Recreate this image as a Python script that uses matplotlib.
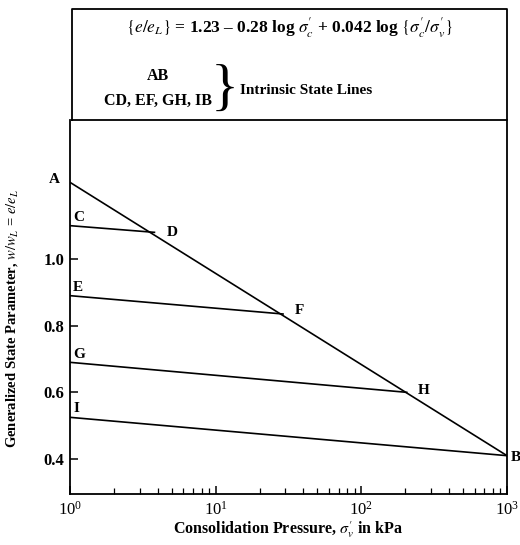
#!/usr/bin/env python3
"""
Intrinsic state lines: generalized state parameter vs consolidation pressure.
Writes out.png
"""
import matplotlib
matplotlib.use("Agg")
import matplotlib.pyplot as plt
from matplotlib.ticker import LogLocator, FixedLocator, NullFormatter

plt.rcParams['font.family'] = ['Liberation Serif', 'DejaVu Serif']
plt.rcParams['mathtext.fontset'] = 'stix'

# end points of each line, (pressure kPa, e/eL)
line_names = ["AB", "CD", "EF", "GH", "IB"]
p_start = [1, 1, 1, 1, 1]
p_end = [1000, 3.8, 29, 205, 1000]
v_start = [1.23, 1.10, 0.89, 0.69, 0.525]
v_end = [0.41, 1.08, 0.835, 0.60, 0.41]

# point labels and where they sit
pt_letters = ["A", "C", "D", "E", "F", "G", "H", "I", "B"]
pt_x = [0.85, 1.05, 4.6, 1.05, 35, 1.05, 245, 1.05, 1060]
pt_y = [1.24, 1.125, 1.08, 0.915, 0.845, 0.715, 0.605, 0.55, 0.405]

yticks = [0.4, 0.6, 0.8, 1.0]
ytick_labels = ["0.4", "0.6", "0.8", "1.0"]

fig = plt.figure(figsize=(5.2, 5.45), dpi=100)
ax = fig.add_axes([70/520, 1-494/545, 437/520, 374/545])

for i in range(len(line_names)):
    ax.plot([p_start[i], p_end[i]], [v_start[i], v_end[i]], color='black', lw=1.2)

for s, x, y in zip(pt_letters, pt_x, pt_y):
    ax.text(x, y, s, fontsize=11, fontweight='bold', ha='left' if s != 'A' else 'right',
            va='center', clip_on=False)

ax.set_xscale('log')
ax.set_xlim(1, 1000)
ax.set_ylim(0.295, 1.417)
ax.yaxis.set_major_locator(FixedLocator(yticks))
ax.set_yticklabels(ytick_labels, fontsize=11.5, fontweight='bold')
ax.xaxis.set_major_locator(LogLocator(base=10, numticks=10))
ax.xaxis.set_minor_locator(LogLocator(base=10, subs=range(2, 10), numticks=20))
ax.xaxis.set_minor_formatter(NullFormatter())
ax.tick_params(axis='both', which='major', direction='in', length=6, width=1.1, labelsize=12)
ax.tick_params(axis='x', which='minor', direction='in', length=4, width=0.9)
ax.tick_params(axis='x', which='major', pad=5)
ax.tick_params(axis='y', which='major', pad=4)
ax.spines['top'].set_visible(False)
for sp in ['left', 'right', 'bottom']:
    ax.spines[sp].set_linewidth(1.3)

ax.set_xlabel(r"Consolidation Pressure, $\sigma_v^{\prime}$ in kPa", fontsize=11.5, fontweight='bold', labelpad=0)
ax.set_ylabel(r"Generalized State Parameter, $w/w_L$ = $e/e_L$", fontsize=10.5, fontweight='bold', labelpad=2)
ax.yaxis.set_label_coords(-0.115, 0.47)

# header box with the equation and legend text
x0, x1 = 72/520, 507/520
yt, yb = 1-9/545, 1-120/545
fig.add_artist(plt.Line2D([x0, x1, x1, x0, x0], [yb, yb, yt, yt, yb],
                          transform=fig.transFigure, color='black', lw=1.3))
fig.text(290/520, 1-28/545,
         r"$\{e/e_L\}$ = 1.23 – 0.28 log $\sigma_c^{\prime}$ + 0.042 log $\{\sigma_c^{\prime}/\sigma_v^{\prime}\}$",
         fontsize=12.5, ha='center', va='center', fontweight='bold')
fig.text(158/520, 1-76/545, "AB", fontsize=11.5, ha='center', va='center', fontweight='bold')
fig.text(158/520, 1-101/545, "CD, EF, GH, IB", fontsize=11.5, ha='center', va='center', fontweight='bold')
fig.text(225/520, 1-91/545, "}", fontsize=42, ha='center', va='center', fontweight='light')
fig.text(240/520, 1-90/545, "Intrinsic State Lines", fontsize=11, ha='left', va='center', fontweight='bold')

fig.savefig("out.png", dpi=100)
